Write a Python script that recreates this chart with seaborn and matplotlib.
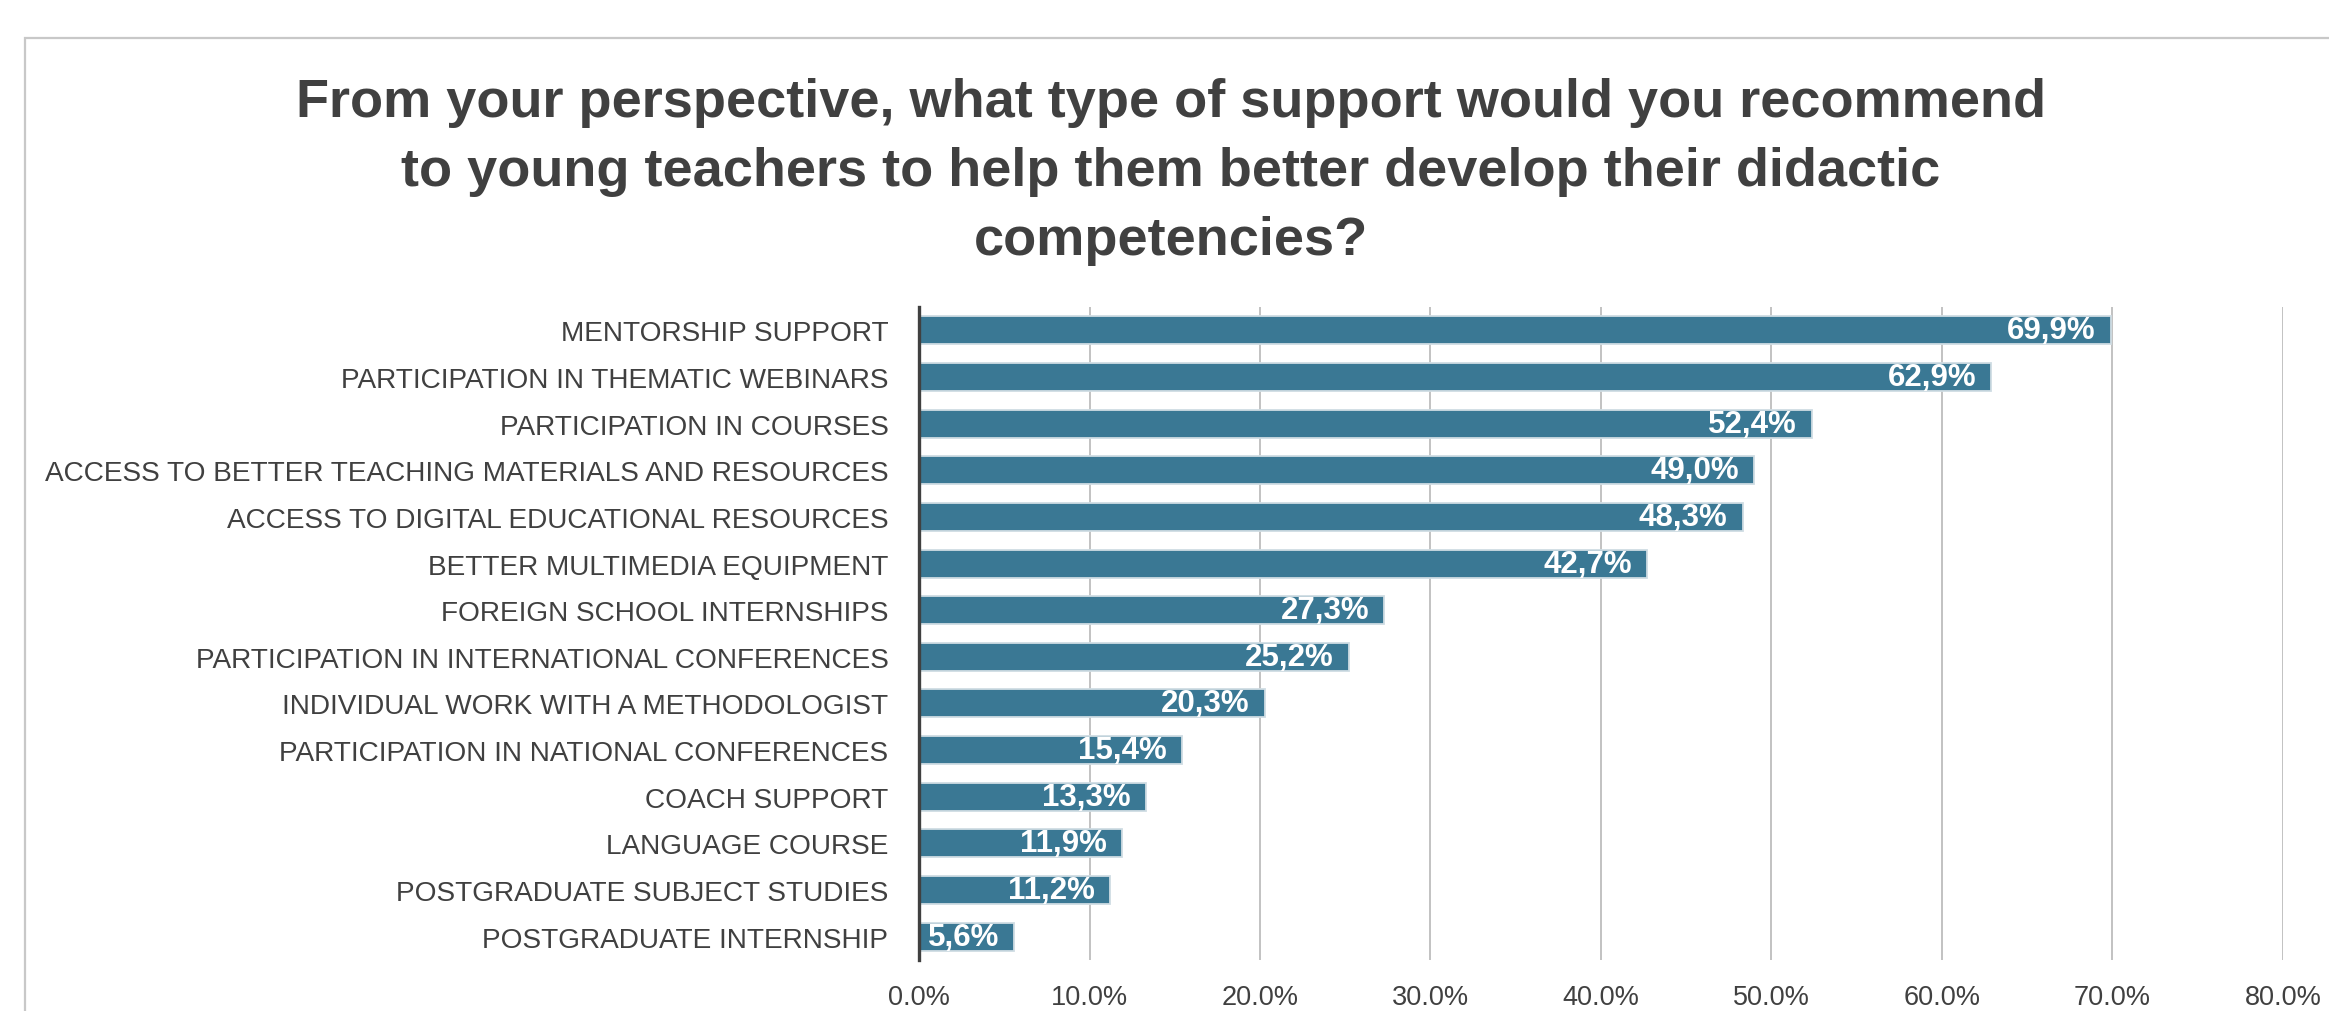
import matplotlib
matplotlib.use("Agg")
import matplotlib.pyplot as plt
import seaborn as sns
import pandas as pd
from matplotlib.patches import Rectangle
from matplotlib.ticker import FuncFormatter, MultipleLocator

# Survey answers and shares of respondents (%)
categories = [
    "MENTORSHIP SUPPORT",
    "PARTICIPATION IN THEMATIC WEBINARS",
    "PARTICIPATION IN COURSES",
    "ACCESS TO BETTER TEACHING MATERIALS AND RESOURCES",
    "ACCESS TO DIGITAL EDUCATIONAL RESOURCES",
    "BETTER MULTIMEDIA EQUIPMENT",
    "FOREIGN SCHOOL INTERNSHIPS",
    "PARTICIPATION IN INTERNATIONAL CONFERENCES",
    "INDIVIDUAL WORK WITH A METHODOLOGIST",
    "PARTICIPATION IN NATIONAL CONFERENCES",
    "COACH SUPPORT",
    "LANGUAGE COURSE",
    "POSTGRADUATE SUBJECT STUDIES",
    "POSTGRADUATE INTERNSHIP",
]
shares = [69.9, 62.9, 52.4, 49.0, 48.3, 42.7, 27.3, 25.2, 20.3, 15.4, 13.3, 11.9, 11.2, 5.6]
value_labels = ["69,9%", "62,9%", "52,4%", "49,0%", "48,3%", "42,7%", "27,3%",
                "25,2%", "20,3%", "15,4%", "13,3%", "11,9%", "11,2%", "5,6%"]

title = ("From your perspective, what type of support would you recommend\n"
         "to young teachers to help them better develop their didactic\n"
         "competencies?")

df = pd.DataFrame({"category": categories, "share": shares})

sns.set_theme(style="white")
plt.rcParams["font.family"] = ["Liberation Sans", "DejaVu Sans"]

TEXT = "#404040"
BAR = "#3a7894"

fig = plt.figure(figsize=(23.29, 10.12), dpi=100)
W, H = 2329, 1012

# light frame around the chart area
fig.add_artist(Rectangle((25 / W, -0.1), 1.2, 1 - 39 / H + 0.1,
                         transform=fig.transFigure, fill=False,
                         edgecolor="#c8c8c8", linewidth=1.6))

ax = fig.add_axes([919 / W, 1 - 961 / H, (2283 - 919) / W, (961 - 308) / H])

sns.barplot(data=df, x="share", y="category", orient="h", color=BAR,
            saturation=1, width=0.6, edgecolor="#cfdce3", linewidth=1.3,
            ax=ax, zorder=3)

ax.set_xlim(0, 80)
ax.set_ylim(13.5, -0.5)
ax.xaxis.set_major_locator(MultipleLocator(10))
ax.xaxis.set_major_formatter(FuncFormatter(lambda v, _: f"{v:.1f}%"))
ax.grid(axis="x", color="#bdbdbd", linewidth=1.3, zorder=0)
ax.grid(axis="y", visible=False)
ax.set_axisbelow(True)
ax.set_xlabel("")
ax.set_ylabel("")

for side in ["top", "right", "bottom"]:
    ax.spines[side].set_visible(False)
ax.spines["left"].set_color(TEXT)
ax.spines["left"].set_linewidth(2.4)
ax.spines["left"].set_zorder(4)

ax.tick_params(axis="y", length=0, pad=22, labelsize=20.2, labelcolor=TEXT)
ax.tick_params(axis="x", length=0, pad=17, labelsize=19.5, labelcolor=TEXT)

texts = ax.bar_label(ax.containers[0], labels=value_labels, padding=-11,
                     color="white", fontsize=22.5, fontweight="bold")
for t in texts:
    t.set_ha("right")

fig.text(1171 / W, 1 - 172 / H, title, ha="center", va="center",
         fontsize=39, fontweight="bold", color=TEXT, linespacing=1.49)

fig.savefig("out.png", dpi=100, facecolor="white")
